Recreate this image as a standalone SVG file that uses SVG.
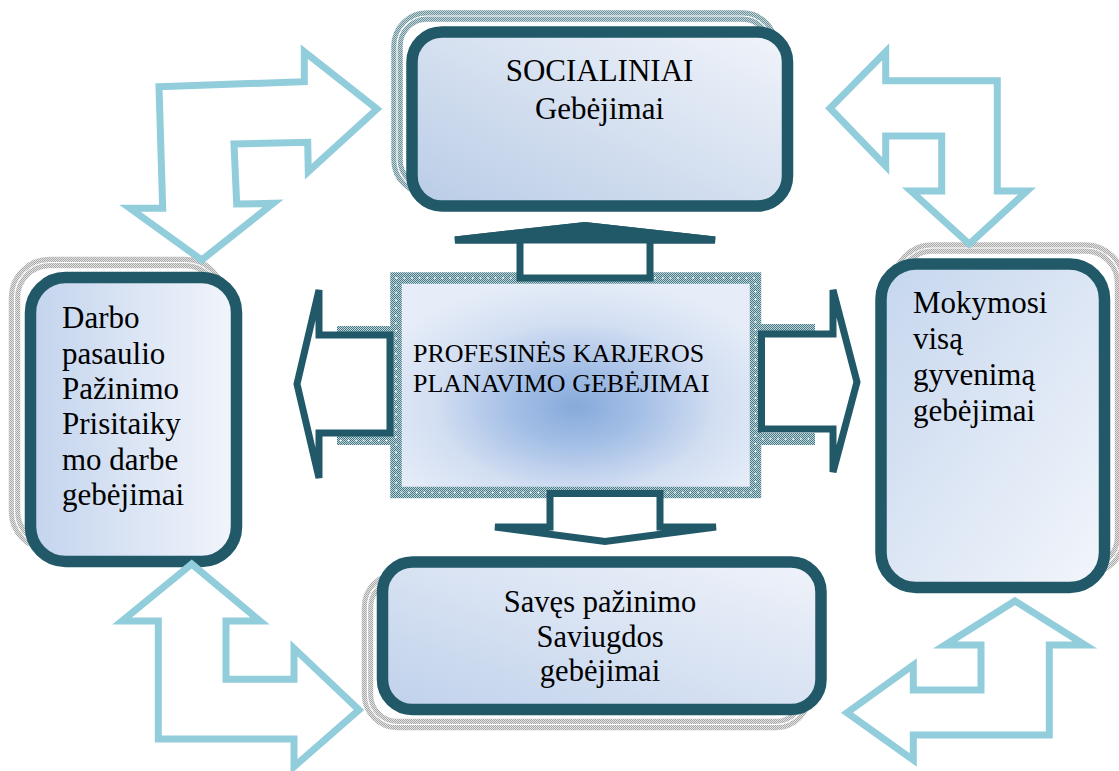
<svg xmlns="http://www.w3.org/2000/svg" width="1119" height="771" viewBox="0 0 1119 771">
  <defs>
    <!-- fine dither textures used for the frames and halos -->
    <pattern id="dotTeal" width="2" height="2" patternUnits="userSpaceOnUse">
      <rect width="2" height="2" fill="#c3d5da"/>
      <rect width="1" height="1" fill="#447a86"/>
      <rect x="1" y="1" width="1" height="1" fill="#447a86"/>
    </pattern>
    <pattern id="dotSlate" width="2" height="2" patternUnits="userSpaceOnUse">
      <rect width="2" height="2" fill="#c4d4d8"/>
      <rect width="1" height="1" fill="#6d949c"/>
      <rect x="1" y="1" width="1" height="1" fill="#6d949c"/>
    </pattern>
    <pattern id="dotGray" width="2" height="2" patternUnits="userSpaceOnUse">
      <rect width="2" height="2" fill="#e4e4e4"/>
      <rect width="1" height="1" fill="#a8a8a8"/>
      <rect x="1" y="1" width="1" height="1" fill="#a8a8a8"/>
    </pattern>

    <linearGradient id="gTop" x1="0" y1="1" x2="1" y2="0">
      <stop offset="0" stop-color="#b9cce6"/>
      <stop offset="1" stop-color="#f1f4fa"/>
    </linearGradient>
    <linearGradient id="gLeft" x1="0" y1="0" x2="1" y2="0">
      <stop offset="0" stop-color="#c3d4ed"/>
      <stop offset="1" stop-color="#f2f5fb"/>
    </linearGradient>
    <linearGradient id="gRight" x1="0" y1="0" x2="1" y2="1">
      <stop offset="0" stop-color="#c5d6ee"/>
      <stop offset="1" stop-color="#f3f6fb"/>
    </linearGradient>
    <linearGradient id="gBottom" x1="0" y1="1" x2="1" y2="0">
      <stop offset="0" stop-color="#bfd1eb"/>
      <stop offset="1" stop-color="#f0f3fa"/>
    </linearGradient>
    <radialGradient id="gCenter" cx="0.5" cy="0.6" r="0.6">
      <stop offset="0" stop-color="#86aadb"/>
      <stop offset="0.3" stop-color="#a4bfe6"/>
      <stop offset="0.65" stop-color="#d2def2"/>
      <stop offset="1" stop-color="#e6edf8"/>
    </radialGradient>

    <style>
      .frame { stroke: #215968; stroke-width: 11.5; }
      .halo { fill: none; stroke-width: 11.5; }
      .halo-line { fill: none; stroke: #ffffff; stroke-width: 1.2; }
      .label { font-family: "Liberation Serif", "Times New Roman", serif; font-size: 31px; fill: #000000; }
      .link { fill: none; stroke: #92cddc; stroke-width: 7; stroke-linejoin: miter; stroke-miterlimit: 4; }
      .block { fill: #ffffff; stroke: #215968; stroke-width: 7; stroke-linejoin: miter; stroke-miterlimit: 2; }
      .block-head { fill: #215968; stroke: #215968; stroke-width: 7; stroke-linejoin: miter; stroke-miterlimit: 2; }
    </style>
  </defs>

  <rect width="1119" height="771" fill="#ffffff"/>

  <!-- SOCIALINIAI -->
  <g id="node-social">
    <rect x="397" y="16" width="375.5" height="174" rx="30" class="halo" stroke="url(#dotSlate)"/>
    <rect x="397" y="16" width="375.5" height="174" rx="30" class="halo-line"/>
    <rect x="412" y="32" width="375.5" height="174" rx="30" class="frame" fill="url(#gTop)"/>
    <text class="label" x="599.5" y="81" text-anchor="middle">SOCIALINIAI</text>
    <text class="label" x="599.5" y="119" text-anchor="middle">Gebėjimai</text>
  </g>

  <!-- Darbo pasaulio ... -->
  <g id="node-work">
    <rect x="14.5" y="262.5" width="206" height="284" rx="35" class="halo" stroke="url(#dotGray)"/>
    <rect x="14.5" y="262.5" width="206" height="284" rx="35" class="halo-line"/>
    <rect x="30.5" y="277.5" width="206" height="284" rx="35" class="frame" fill="url(#gLeft)"/>
    <text class="label" x="62" y="328">Darbo</text>
    <text class="label" x="62" y="363.5">pasaulio</text>
    <text class="label" x="62" y="399">Pažinimo</text>
    <text class="label" x="62" y="434">Prisitaiky</text>
    <text class="label" x="62" y="469.5">mo darbe</text>
    <text class="label" x="62" y="505">gebėjimai</text>
  </g>

  <!-- Mokymosi visą gyvenimą -->
  <g id="node-lifelong">
    <rect x="897" y="248" width="223.5" height="323.5" rx="35" class="halo" stroke="url(#dotGray)"/>
    <rect x="897" y="248" width="223.5" height="323.5" rx="35" class="halo-line"/>
    <rect x="881" y="264" width="223.5" height="323.5" rx="35" class="frame" fill="url(#gRight)"/>
    <text class="label" x="913" y="313">Mokymosi</text>
    <text class="label" x="913" y="349">visą</text>
    <text class="label" x="913" y="385">gyvenimą</text>
    <text class="label" x="913" y="421">gebėjimai</text>
  </g>

  <!-- Savęs pažinimo -->
  <g id="node-self">
    <rect x="367.5" y="577" width="438.5" height="147.5" rx="30" class="halo" stroke="url(#dotGray)"/>
    <rect x="367.5" y="577" width="438.5" height="147.5" rx="30" class="halo-line"/>
    <rect x="382.5" y="562" width="438.5" height="147.5" rx="30" class="frame" fill="url(#gBottom)"/>
    <text class="label" x="600" y="612" text-anchor="middle" style="font-size:30.5px">Savęs pažinimo</text>
    <text class="label" x="600" y="646.5" text-anchor="middle" style="font-size:30.5px">Saviugdos</text>
    <text class="label" x="600" y="681" text-anchor="middle" style="font-size:30.5px">gebėjimai</text>
  </g>

  <!-- PROFESINĖS KARJEROS PLANAVIMO GEBĖJIMAI -->
  <g id="node-career">
    <rect x="337" y="326" width="54" height="7" fill="url(#dotTeal)"/>
    <rect x="337" y="436" width="54" height="9" fill="url(#dotTeal)"/>
    <rect x="760" y="324" width="55" height="7" fill="url(#dotTeal)"/>
    <rect x="760" y="433" width="55" height="12" fill="url(#dotTeal)"/>
    <line x1="340" y1="440.5" x2="390" y2="440.5" stroke="#ffffff" stroke-width="1.6" stroke-dasharray="1.6 6"/>
    <line x1="762" y1="439" x2="815" y2="439" stroke="#ffffff" stroke-width="1.6" stroke-dasharray="1.6 6"/>
    <rect x="396" y="278" width="359.5" height="214.5" fill="url(#gCenter)" stroke="url(#dotTeal)" stroke-width="11.5"/>
    <rect x="396" y="278" width="359.5" height="214.5" fill="none" stroke="#ffffff" stroke-width="1.6" stroke-dasharray="1.6 6"/>
    <text class="label" x="413" y="362" style="font-size:26px">PROFESINĖS KARJEROS</text>
    <text class="label" x="413" y="392" style="font-size:26px">PLANAVIMO GEBĖJIMAI</text>
  </g>

  <g id="connectors">
    <!-- block arrows leaving the central box -->
    <polygon class="block" points="520,278 520,240 455,240 585,225.5 715,240 650,240 650,278"/>
    <polygon class="block-head" points="455,240 585,225.5 715,240"/>
    <polygon class="block" points="550,493.5 660,493.5 660,527 716,527 605,541.5 495,527 550,527"/>
    <polygon class="block" points="390,335 319,335 319,290 297,384 319,478 319,433 390,433"/>
    <polygon class="block" points="761.5,334 833,334 833,290 857,382 833,472 833,429 761.5,429"/>

    <!-- two-way bent arrows between neighbouring boxes -->
    <polygon class="link" points="159,86.7 304.3,81.7 304.3,51.7 377,109 308.3,171.7 307.7,142.3 234,144 236.7,204 273.3,203.3 201.7,260 130,208.3 162.7,208.3"/>
    <polygon class="link" points="885.7,51.7 885.7,80.7 997.3,80.7 997.3,191 1027,191 969.3,244 911,191 941.7,191 941.7,136 885.7,136 885.7,166 830,108.3"/>
    <polygon class="link" points="191.7,564 260,621 226,621 226,679.3 294,679.3 294,648.3 359,710 294,766.7 294,739 158.3,739 158.3,621 122,621"/>
    <polygon class="link" points="1015,601 1085,645 1049.3,645 1049.3,735 913.3,735 913.3,760 847,712.7 913.3,665 913.3,690 981,690 981,645 945,645"/>
  </g>
</svg>
